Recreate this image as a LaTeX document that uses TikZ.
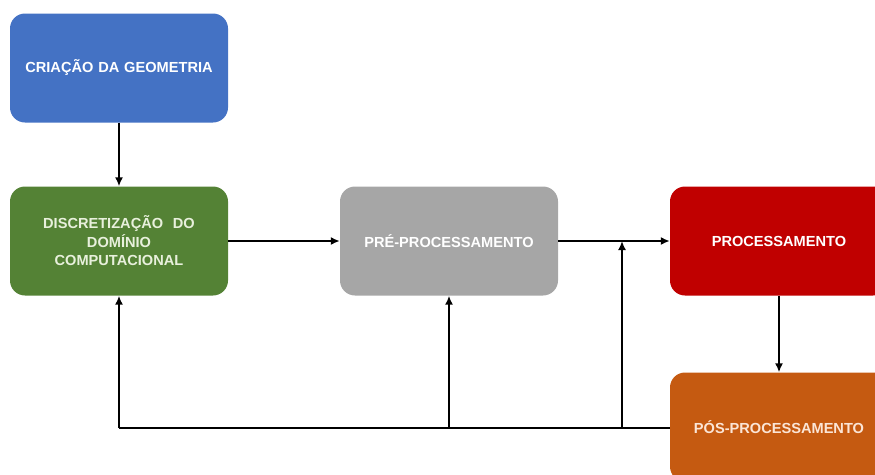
\documentclass[tikz,border=0pt]{standalone}
\usepackage{fontspec}
\setmainfont{Liberation Sans}
\usetikzlibrary{arrows.meta}
\definecolor{cblue}{HTML}{4472C4}
\definecolor{cgreen}{HTML}{548235}
\definecolor{cgray}{HTML}{A6A6A6}
\definecolor{cred}{HTML}{C00000}
\definecolor{corange}{HTML}{C55A11}
\definecolor{tgreen}{HTML}{E8F0DC}
\definecolor{torange}{HTML}{FBE5D6}
\tikzset{
  stage/.style={rounded corners=15pt, minimum width=218pt, minimum height=109pt,
    inner sep=0pt, align=center, text width=200pt,
    font=\fontsize{14.6}{18.5}\selectfont\bfseries, text=white},
  link/.style={line width=1.7pt, -{Latex[length=9pt,width=8pt]}},
  plain/.style={line width=1.7pt}
}
\begin{document}
\begin{tikzpicture}[x=1pt,y=-1pt]
  \useasboundingbox (0,0) rectangle (875,474);
  \clip (0,0) rectangle (875,474);
  % stages of the workflow
  \node[stage, fill=cblue]   (geo)  at (119,68)  {CRIAÇÃO DA GEOMETRIA};
  \node[stage, fill=cgreen, text=tgreen] (disc) at (119,241) {DISCRETIZAÇÃO\ \ DO\\DOMÍNIO\\COMPUTACIONAL};
  \node[stage, fill=cgray]   (pre)  at (449,241) {PRÉ-PROCESSAMENTO};
  \node[stage, fill=cred]    (proc) at (779,241) {PROCESSAMENTO};
  \node[stage, fill=corange, text=torange] (pos) at (779,427) {PÓS-PROCESSAMENTO};
  % forward flow
  \draw[link] (geo) -- (disc);
  \draw[link] (disc) -- (pre);
  \draw[link] (pre) -- (proc);
  \draw[link] (proc) -- (pos);
  % feedback from post-processing
  \coordinate (fbL) at (119,428);
  \coordinate (fbM) at (449,428);
  \coordinate (fbR) at (622,428);
  \coordinate (jn)  at (622,241);
  \draw[plain] (pos.west |- fbL) -- (fbL);
  \draw[link] (fbL) -- (disc.south);
  \draw[link] (fbM) -- (pre.south);
  \draw[link] (fbR) -- (jn);
\end{tikzpicture}
\end{document}
